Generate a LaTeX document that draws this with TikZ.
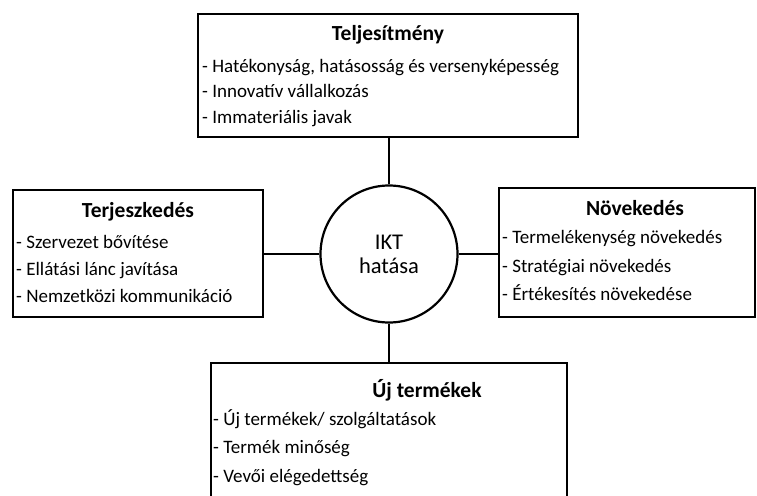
\documentclass[tikz,border=0pt]{standalone}
\usepackage{fontspec}
\setmainfont{Carlito}
\begin{document}
\begin{tikzpicture}[x=1pt,y=-1pt,
  box/.style={draw, line width=1.8pt, rectangle, inner sep=0},
  item/.style={anchor=mid west, inner sep=0, yshift=-3pt, font=\fontsize{19}{22}\selectfont},
  ttl/.style={anchor=mid, inner sep=0, yshift=-3pt, font=\fontsize{21.5}{24}\selectfont\bfseries},
  link/.style={line width=1.5pt}]
\useasboundingbox (0,0) rectangle (757,495);
\clip (0,0) rectangle (757,495);
% boxes
\node[box, minimum width=380pt, minimum height=123pt] (perf) at (388,75.5) {};
\node[box, minimum width=250pt, minimum height=127pt] (exp) at (138,253.5) {};
\node[box, minimum width=256pt, minimum height=129pt] (grow) at (627,252.5) {};
\node[box, minimum width=356pt, minimum height=140pt] (prod) at (389,433) {};
\node[draw, circle, line width=2.2pt, minimum size=137pt, inner sep=0,
  font=\fontsize{22.5}{24}\selectfont, align=center] (ikt) at (389,254) {IKT\\hatása};
% connectors
\draw[link] (ikt.north) -- (ikt.north |- perf.south);
\draw[link] (ikt.south) -- (ikt.south |- prod.north);
\draw[link] (ikt.west) -- (ikt.west -| exp.east);
\draw[link] (ikt.east) -- (ikt.east -| grow.west);
% top
\node[ttl] (perft) at (388,35) {Teljesítmény};
\node[item] (perf1) at (202,67) {- Hatékonyság, hatásosság és versenyképesség};
\node[item] (perf2) at (202,92) {- Innovatív vállalkozás};
\node[item] (perf3) at (202,118) {- Immateriális javak};
% left
\node[ttl] (expt) at (138,212) {Terjeszkedés};
\node[item] (exp1) at (16,243) {- Szervezet bővítése};
\node[item] (exp2) at (16,270) {- Ellátási lánc javítása};
\node[item] (exp3) at (16,297) {- Nemzetközi kommunikáció};
% right
\node[ttl] (growt) at (635,210) {Növekedés};
\node[item] (grow1) at (502,238) {- Termelékenység növekedés};
\node[item] (grow2) at (502,267) {- Stratégiai növekedés};
\node[item] (grow3) at (502,295) {- Értékesítés növekedése};
% bottom
\node[ttl] (prodt) at (427,392) {Új termékek};
\node[item] (prod1) at (213,420) {- Új termékek/ szolgáltatások};
\node[item] (prod2) at (213,448) {- Termék minőség};
\node[item] (prod3) at (213,477) {- Vevői elégedettség};
\end{tikzpicture}
\end{document}
